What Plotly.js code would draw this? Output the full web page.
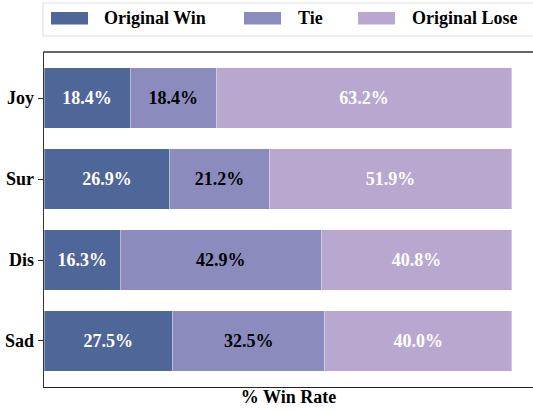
<!DOCTYPE html>
<html>
<head>
<meta charset="utf-8">
<script src="https://cdn.plot.ly/plotly-3.0.1.min.js"></script>
<style>html,body{margin:0;padding:0;background:#fff;overflow:hidden;}#chart{width:533px;height:410px;}</style>
</head>
<body>
<div id="chart"></div>
<script>
var categories = ["Sad", "Dis", "Sur", "Joy"];
var seriesNames = ["Original Win", "Tie", "Original Lose"];
var originalWin = [27.5, 16.3, 26.9, 18.4];
var tie = [32.5, 42.9, 21.2, 18.4];
var originalLose = [40.0, 40.8, 51.9, 63.2];
var colors = ["#4f6699", "#8b8bbe", "#b8a8cf"];
var textColors = ["#ffffff", "#000000", "#ffffff"];
var xTitle = "% Win Rate";

var FONT = "Liberation Serif, Times New Roman, serif";
var FS = 18;
var values = [originalWin, tie, originalLose];

var traces = values.map(function (vals, i) {
  return {
    type: "bar",
    orientation: "h",
    name: seriesNames[i],
    x: vals,
    y: categories,
    width: 0.75,
    marker: { color: colors[i], line: { color: "rgba(255,255,255,0.6)", width: 0.6 } },
    text: vals.map(function (v) { return v.toFixed(1) + "%"; }),
    textposition: "inside",
    insidetextanchor: "middle",
    constraintext: "none",
    textangle: 0,
    textfont: { family: FONT, size: FS, color: textColors[i], weight: "bold" },
    hoverinfo: "skip",
    showlegend: false
  };
});

function px2paperX(px) { return (px - 44) / 489; }
function px2paperY(py) { return (387 - py) / 335; }
var swatchX = [51, 244, 358];
var labelX = [102, 296, 410];
var shapes = [{
  type: "rect", xref: "paper", yref: "paper",
  x0: px2paperX(43), x1: px2paperX(545), y0: px2paperY(36), y1: px2paperY(3),
  line: { color: "#e2e2e2", width: 1.2 }, fillcolor: "rgba(0,0,0,0)"
}, {
  type: "line", xref: "paper", yref: "paper",
  x0: px2paperX(43.4), x1: px2paperX(545), y0: 1, y1: 1,
  line: { color: "#333", width: 1.3 }
}];
var annotations = [];
seriesNames.forEach(function (n, i) {
  shapes.push({
    type: "rect", xref: "paper", yref: "paper",
    x0: px2paperX(swatchX[i]), x1: px2paperX(swatchX[i] + 37),
    y0: px2paperY(24.5), y1: px2paperY(12),
    line: { width: 0 }, fillcolor: colors[i]
  });
  annotations.push({
    xref: "paper", yref: "paper", x: px2paperX(labelX[i]), y: px2paperY(18.5),
    xanchor: "left", yanchor: "middle", showarrow: false, text: n,
    font: { family: FONT, size: FS, color: "#000", weight: "bold" }
  });
});

var layout = {
  width: 533, height: 410,
  margin: { l: 44, r: 0, t: 52, b: 23 },
  barmode: "stack",
  paper_bgcolor: "#fff", plot_bgcolor: "#fff",
  font: { family: FONT, size: FS, color: "#000" },
  xaxis: {
    range: [0, 104.5], showticklabels: false, ticks: "", showgrid: false, zeroline: false,
    showline: true, mirror: false, linecolor: "#222", linewidth: 1.3, fixedrange: true,
    title: { text: xTitle, font: { family: FONT, size: FS, weight: "bold" }, standoff: 3 }
  },
  yaxis: {
    range: [-0.568, 3.568], showgrid: false, zeroline: false,
    showline: true, mirror: false, linecolor: "#333", linewidth: 1.3,
    ticks: "outside", ticklen: 5, tickcolor: "#333",
    tickfont: { family: FONT, size: FS, weight: "bold" }, fixedrange: true
  },
  shapes: shapes,
  annotations: annotations,
  showlegend: false
};

Plotly.newPlot("chart", traces, layout, { displayModeBar: false, staticPlot: true });
</script>
</body>
</html>
